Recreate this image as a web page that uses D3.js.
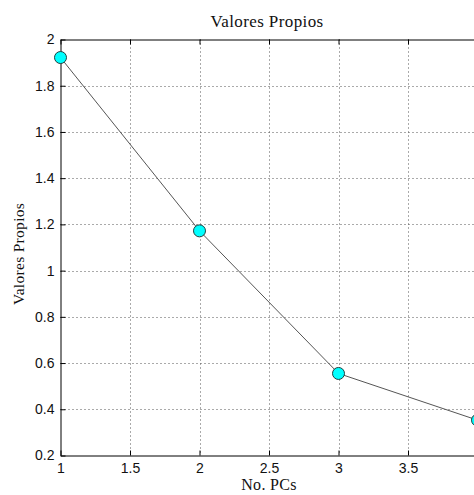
<!DOCTYPE html>
<html>
<head>
<meta charset="utf-8">
<script src="https://cdn.jsdelivr.net/npm/d3@7/dist/d3.min.js"></script>
<style>
  html, body { margin: 0; padding: 0; background: #fff; }
  svg { display: block; }
  .tick text { font-family: "Liberation Sans", Arial, sans-serif; font-size: 14px; fill: #111; }
  .lbl { font-family: "Liberation Serif", "Times New Roman", serif; fill: #111; }
</style>
</head>
<body>
<svg id="chart" width="474" height="495"></svg>
<script>
// Eigenvalues of the first principal components
const pcs = [1, 2, 3, 4];
const eigenvalues = [1.922, 1.172, 0.555, 0.353];
const xTicks = [1, 1.5, 2, 2.5, 3, 3.5, 4];
const yTicks = [0.2, 0.4, 0.6, 0.8, 1, 1.2, 1.4, 1.6, 1.8, 2];

const svg = d3.select("#chart");
const plotLeft = 60.5, plotRight = 477.5, plotTop = 39.5, plotBottom = 455.5;

const x = d3.scaleLinear().domain([1, 4]).range([plotLeft, plotRight]);
const y = d3.scaleLinear().domain([0.2, 2]).range([plotBottom, plotTop]);

// dotted grid
const grid = svg.append("g")
  .attr("stroke", "#555")
  .attr("stroke-width", 1)
  .attr("stroke-dasharray", "1,3");
grid.selectAll("line.gx").data(xTicks.slice(1, -1)).join("line")
  .attr("x1", d => Math.round(x(d)) + 0.5).attr("x2", d => Math.round(x(d)) + 0.5)
  .attr("y1", plotTop).attr("y2", plotBottom);
grid.selectAll("line.gy").data(yTicks.slice(1, -1)).join("line")
  .attr("y1", d => Math.round(y(d)) + 0.5).attr("y2", d => Math.round(y(d)) + 0.5)
  .attr("x1", plotLeft).attr("x2", plotRight);

// axes with inward ticks
const fmt = d => String(d);
const xAxis = svg.append("g").attr("transform", `translate(0,${plotBottom})`)
  .call(d3.axisBottom(x).tickValues(xTicks).tickFormat(fmt).tickSizeInner(-5).tickSizeOuter(0).tickPadding(8));
const xTop = svg.append("g").attr("transform", `translate(0,${plotTop})`)
  .call(d3.axisTop(x).tickValues(xTicks).tickFormat("").tickSizeInner(-5).tickSizeOuter(0));
const yAxis = svg.append("g").attr("transform", `translate(${plotLeft},0)`)
  .call(d3.axisLeft(y).tickValues(yTicks).tickFormat(fmt).tickSizeInner(-5).tickSizeOuter(0).tickPadding(6));

[xAxis, xTop, yAxis].forEach(g => {
  g.select(".domain").attr("stroke", "#000").attr("stroke-width", 1);
  g.selectAll(".tick line").attr("stroke", "#000");
});

// scree line and markers
const line = d3.line().x((d, i) => x(pcs[i])).y(d => y(d));
svg.append("path")
  .datum(eigenvalues)
  .attr("d", line)
  .attr("fill", "none")
  .attr("stroke", "#555")
  .attr("stroke-width", 1);

svg.selectAll("circle.pt").data(eigenvalues).join("circle")
  .attr("class", "pt")
  .attr("cx", (d, i) => x(pcs[i]))
  .attr("cy", d => y(d))
  .attr("r", 6)
  .attr("fill", "#00ffff")
  .attr("stroke", "#1f3f3f")
  .attr("stroke-width", 1);

// titles
svg.append("text").attr("class", "lbl")
  .attr("x", 267).attr("y", 27)
  .attr("text-anchor", "middle").attr("font-size", 17)
  .attr("letter-spacing", 0.4)
  .text("Valores Propios");
svg.append("text").attr("class", "lbl")
  .attr("x", (plotLeft + plotRight) / 2).attr("y", 490)
  .attr("text-anchor", "middle").attr("font-size", 16)
  .attr("letter-spacing", 0.3)
  .text("No. PCs");
svg.append("text").attr("class", "lbl")
  .attr("transform", "translate(24,254) rotate(-90)")
  .attr("text-anchor", "middle").attr("font-size", 15.5)
  .attr("letter-spacing", 0.3)
  .text("Valores Propios");
</script>
</body>
</html>
